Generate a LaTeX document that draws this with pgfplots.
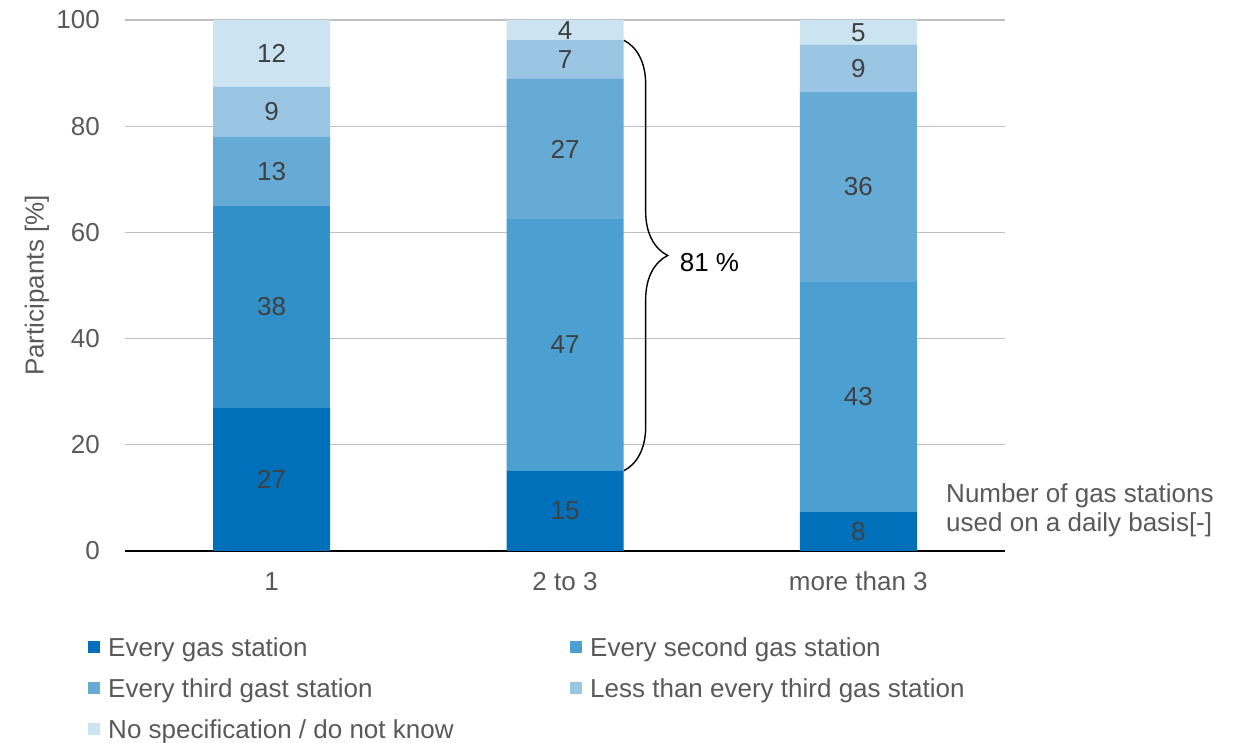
\documentclass[border=0pt]{standalone}
\usepackage{fontspec}
\setmainfont{Liberation Sans}
\usepackage{pgfplots}
\pgfplotsset{compat=1.18}
\usetikzlibrary{decorations.pathreplacing}
\definecolor{cA}{HTML}{0070BA}
\definecolor{cB}{HTML}{4B9FD1}
\definecolor{cBd}{HTML}{3290C9}
\definecolor{cC}{HTML}{66ABD6}
\definecolor{cD}{HTML}{9AC6E4}
\definecolor{cE}{HTML}{CCE3F1}
\definecolor{tgray}{HTML}{595959}
\definecolor{lgray}{HTML}{404040}
\definecolor{grid}{HTML}{D9D9D9}
\newcommand{\F}{\fontsize{26}{31}\selectfont}
\begin{document}
\begin{tikzpicture}
\path[use as bounding box] (-125pt,-192pt) rectangle (1110pt,551pt);
\pgfplotsset{
  base/.style={
    width=880pt, height=531pt, scale only axis,
    xmin=-0.5, xmax=2.5, ymin=0, ymax=100,
    clip=false,
  }
}
\begin{axis}[base,
  ybar stacked, bar width=117pt,
  axis x line*=bottom, axis y line*=left,
  x axis line style={black, line width=1.5pt},
  y axis line style={draw=none},
  major tick length=0pt,
  xtick={0,1,2}, xticklabels={1,2 to 3,more than 3},
  ytick={0,20,40,60,80,100},
  ymajorgrids, grid style={grid, line width=1.3pt},
  /pgf/number format/assume math mode=true,
  tick label style={font=\F, text=tgray},
  xticklabel style={anchor=base, yshift=-40pt},
  yticklabel style={anchor=base east, inner sep=0pt, xshift=-25pt, yshift=-9pt},
  ylabel={Participants [\%]},
  ylabel style={at={(axis description cs:-0.1,0.5)}, anchor=center, font=\F, text=tgray},
  legend style={at={(axis description cs:-0.042,-0.164)}, anchor=north west, draw=none, fill=none,
    inner sep=0pt, column sep=8pt, row sep=18pt,
    nodes={inner sep=0pt, text height=18pt, text depth=5pt},
    font=\F, text=tgray},
  legend columns=2, legend cell align=left,
  legend image code/.code={\fill[#1] (0pt,-3pt) rectangle (12pt,9pt);},
]
\addplot[fill=cA, draw=none] coordinates {(0,26.9) (1,15.1) (2,7.3)};
\addlegendentry{\makebox[454pt][l]{Every gas station}}
\addplot[fill=cBd, draw=none, forget plot] coordinates {(0,38.1) (1,0) (2,0)};
\addplot[fill=cB, draw=none] coordinates {(0,0) (1,47.4) (2,43.4)};
\addlegendentry{Every second gas station}
\addplot[fill=cC, draw=none] coordinates {(0,13.0) (1,26.4) (2,35.7)};
\addlegendentry{\makebox[454pt][l]{Every third gast station}}
\addplot[fill=cD, draw=none] coordinates {(0,9.4) (1,7.3) (2,8.9)};
\addlegendentry{Less than every third gas station}
\addplot[fill=cE, draw=none] coordinates {(0,12.6) (1,3.8) (2,4.7)};
\addlegendentry{No specification / do not know}

\draw[decorate, decoration={brace, amplitude=44pt}, line width=1.4pt] (axis cs:1.2,96.2) -- (axis cs:1.2,15.1);
\node[anchor=west, inner sep=0pt, font=\F, xshift=56pt] at (axis cs:1.2,54.3) {81 \%};
\node[anchor=west, align=left, inner sep=0pt, font=\fontsize{26}{29}\selectfont, text=tgray] at (rel axis cs:0.933,0.077) {Number of gas stations\\used on a daily basis[-]};
\end{axis}
\begin{axis}[base, hide axis]
\addplot[draw=none, mark=none, nodes near coords, point meta=explicit symbolic,
  every node near coord/.append style={anchor=center, inner sep=0pt, font=\F, text=lgray}]
coordinates {
(0,13.45)[27] (0,45.95)[38] (0,71.5)[13] (0,82.7)[9] (0,93.7)[12]
(1,7.55)[15] (1,38.8)[47] (1,75.7)[27] (1,92.55)[7] (1,98.1)[4]
(2,3.65)[8] (2,29.0)[43] (2,68.55)[36] (2,90.85)[9] (2,97.65)[5]
};
\end{axis}
\end{tikzpicture}
\end{document}
